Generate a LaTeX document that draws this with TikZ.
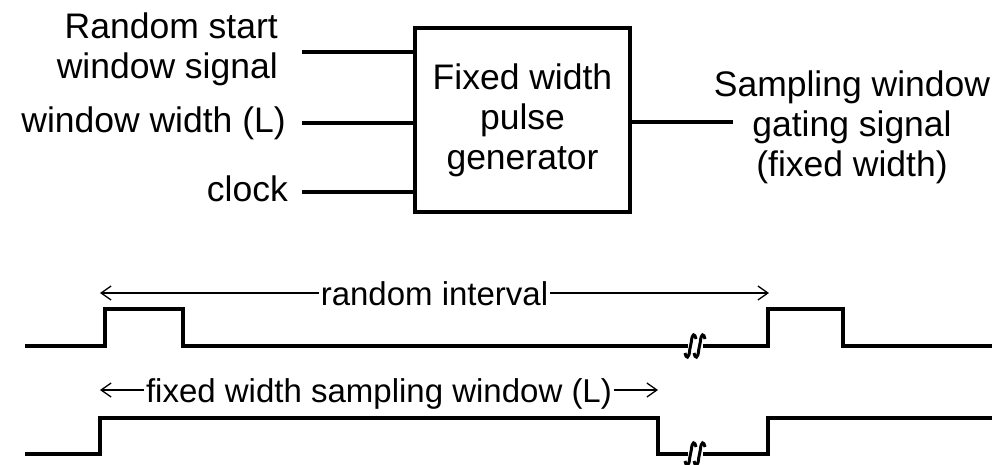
\documentclass[tikz,border=0pt]{standalone}
\usepackage{fontspec}
\setmainfont{Liberation Sans}
\usetikzlibrary{arrows.meta}
\tikzstyle{genNode} = [rectangle, draw=black, line width=4pt, minimum width=215pt, minimum height=184pt, inner sep=0pt, align=center]
\tikzstyle{inNode} = [anchor=east, inner ysep=0pt, inner xsep=16pt, text height=26pt, text depth=7.5pt]
\tikzstyle{outNode} = [align=center, inner sep=0pt]
\tikzstyle{wire} = [line width=4pt]
\tikzstyle{wave} = [line width=3.5pt, line join=miter]
\tikzstyle{spanArrow} = [line width=1.3pt, <->, >={Straight Barb[length=10pt,width=14pt]}]
\tikzstyle{spanLabel} = [fill=white, inner sep=2pt, text height=24pt, text depth=0pt, font=\fontsize{33pt}{38pt}\selectfont]

% two slanted strokes marking a cut in a waveform
\newcommand{\breakmark}[2]{%
  \foreach \dx in {-4.5,4.5} {
    \draw[line width=3pt] (#1+\dx-5.5,#2+7) .. controls (#1+\dx-4.5,#2+13) and (#1+\dx-1.5,#2+13) .. (#1+\dx-0.8,#2+4)
      -- (#1+\dx+0.8,#2-4) .. controls (#1+\dx+1.5,#2-13) and (#1+\dx+4.5,#2-13) .. (#1+\dx+5.5,#2-7);
  }}

\begin{document}
\begin{tikzpicture}[x=1pt, y=-1pt, font=\fontsize{35.5pt}{40pt}\selectfont]
        \useasboundingbox (0,0) rectangle (998,464);

        \node (gen) [genNode] at (522.5,120) {Fixed width\\pulse\\generator};
        \node (lstart) [anchor=east, align=right, inner ysep=0pt, inner xsep=24pt] at (302,49) {Random start\\window signal};
        \node (lwidth) [inNode] at (302,123) {window width (L)};
        \node (lclock) [inNode, inner xsep=14pt] at (302,192) {clock};
        \node (gate) [outNode] at (852,127) {Sampling window\\gating signal\\(fixed width)};
        \coordinate (gend) at (733,122);

        \draw [wire] ([yshift=-3pt]lstart.east) -- ([yshift=-3pt]lstart.east -| gen.west);
        \draw [wire] (lwidth.east) -- (lwidth.east -| gen.west);
        \draw [wire] (lclock.east) -- (lclock.east -| gen.west);
        \draw [wire] (gend -| gen.east) -- (gend);

        % timing
        \coordinate (ri1) at (100,293);
        \coordinate (ri2) at (769,293);
        \coordinate (fw1) at (100,390);
        \coordinate (fw2) at (658,390);
        \draw [spanArrow] (ri1) -- node[spanLabel] {random interval} (ri2);
        \draw [spanArrow] (fw1) -- node[spanLabel] {fixed width sampling window (L)} (fw2);

        \draw [wave] (25,346) -- (105,346) -- (105,309) -- (183,309) -- (183,346) -- (688,346);
        \draw [wave] (703,346) -- (768,346) -- (768,309) -- (843,309) -- (843,346) -- (992,346);
        \breakmark{695}{346}

        \draw [wave] (25,454) -- (100,454) -- (100,418) -- (658,418) -- (658,454) -- (688,454);
        \draw [wave] (703,454) -- (768,454) -- (768,418) -- (992,418);
        \breakmark{695}{454}
\end{tikzpicture}
\end{document}
